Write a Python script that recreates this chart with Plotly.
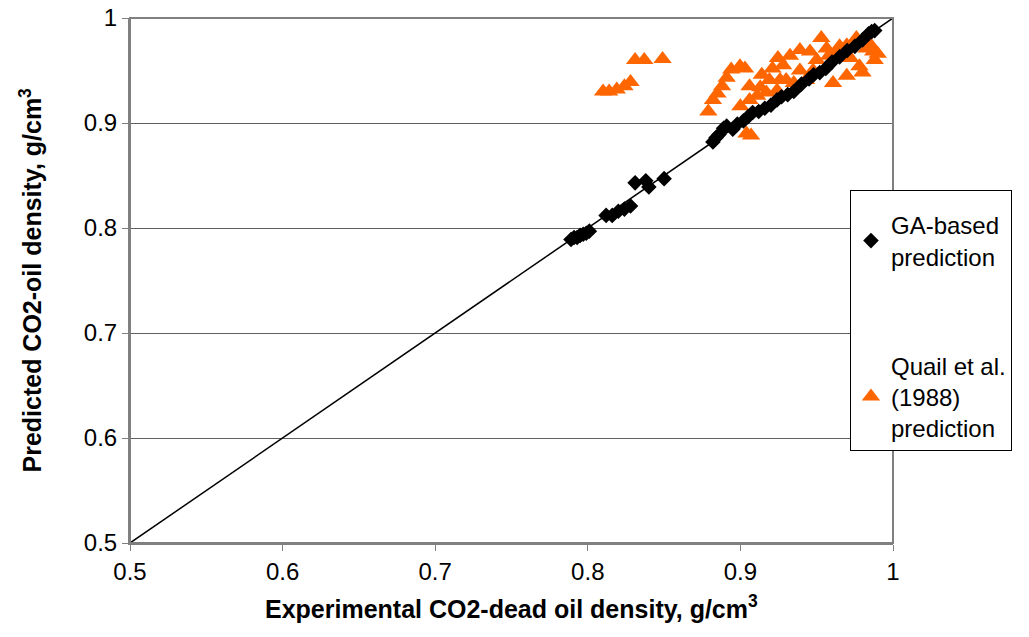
import plotly.graph_objects as go

# GA-based prediction (experimental, predicted)
ga_x = [0.789, 0.791, 0.793, 0.795, 0.797, 0.799, 0.801, 0.812, 0.816, 0.820, 0.824, 0.828,
        0.831, 0.838, 0.840, 0.850, 0.882, 0.884, 0.886, 0.889, 0.891, 0.895, 0.898, 0.902,
        0.905, 0.908, 0.912, 0.916, 0.920, 0.924, 0.927, 0.931, 0.935, 0.940, 0.945, 0.948,
        0.952, 0.956, 0.960, 0.965, 0.970, 0.975, 0.980, 0.984, 0.986, 0.988]
ga_y = [0.789, 0.791, 0.791, 0.793, 0.794, 0.795, 0.797, 0.812, 0.812, 0.816, 0.818, 0.821,
        0.843, 0.845, 0.839, 0.847, 0.882, 0.886, 0.889, 0.895, 0.897, 0.894, 0.899, 0.902,
        0.906, 0.910, 0.911, 0.914, 0.917, 0.922, 0.925, 0.927, 0.930, 0.937, 0.942, 0.946,
        0.948, 0.952, 0.958, 0.963, 0.969, 0.973, 0.979, 0.985, 0.987, 0.988]

# Quail et al. (1988) prediction
quail_x = [0.810, 0.814, 0.819, 0.824, 0.828, 0.831, 0.837, 0.849,
           0.879, 0.882, 0.885, 0.888, 0.891, 0.894, 0.8997, 0.903,
           0.900, 0.906, 0.911, 0.917, 0.924, 0.904, 0.907,
           0.906, 0.914, 0.919, 0.926, 0.930, 0.935, 0.943,
           0.9246, 0.9325, 0.939, 0.9456, 0.953, 0.9565, 0.950,
           0.965, 0.9697, 0.976, 0.9827, 0.987, 0.988, 0.978, 0.980,
           0.9697, 0.9607, 0.939, 0.9476, 0.958, 0.962, 0.972,
           0.921, 0.928, 0.913, 0.985, 0.990]
quail_y = [0.930, 0.930, 0.932, 0.935, 0.939, 0.960, 0.960, 0.961,
           0.911, 0.922, 0.928, 0.935, 0.943, 0.951, 0.954, 0.952,
           0.916, 0.922, 0.926, 0.929, 0.931, 0.890, 0.888,
           0.935, 0.946, 0.941, 0.941, 0.941, 0.938, 0.941,
           0.962, 0.964, 0.9695, 0.968, 0.981, 0.971, 0.960,
           0.973, 0.974, 0.981, 0.971, 0.968, 0.960, 0.954, 0.948,
           0.945, 0.938, 0.950, 0.950, 0.964, 0.967, 0.962,
           0.952, 0.955, 0.934, 0.975, 0.966]

line_x = [0.5, 1.0]
line_y = [0.5, 1.0]

tick_vals = [0.5, 0.6, 0.7, 0.8, 0.9, 1.0]
tick_text = ["0.5", "0.6", "0.7", "0.8", "0.9", "1"]

x_title = "<b>Experimental CO2-dead oil density, g/cm<sup>3</sup></b>"
y_title = "<b>Predicted CO2-oil density, g/cm<sup>3</sup></b>"

font_family = "Liberation Sans, Arial, sans-serif"

fig = go.Figure()
fig.add_trace(go.Scatter(
    x=quail_x, y=quail_y, mode="markers", name="Quail et al.<br>(1988)<br>prediction",
    marker=dict(symbol="triangle-up", size=16, color="#FF6600", line=dict(width=0)),
    legendrank=2, legendgroup="q"))
fig.add_trace(go.Scatter(
    x=ga_x, y=ga_y, mode="markers", name="GA-based<br>prediction",
    marker=dict(symbol="diamond", size=12, color="black", line=dict(width=0)),
    legendrank=1, legendgroup="g"))
fig.add_trace(go.Scatter(
    x=line_x, y=line_y, mode="lines", line=dict(color="black", width=1.5),
    showlegend=False, hoverinfo="skip"))

axis_common = dict(
    range=[0.5, 1.0], tickvals=tick_vals, ticktext=tick_text,
    showline=True, linecolor="#808080", linewidth=2,
    ticks="outside", ticklen=6, tickcolor="#808080", tickwidth=1,
    tickfont=dict(size=24, color="black", family=font_family),
    zeroline=False, automargin=False,
)

fig.update_layout(
    width=1029, height=637,
    margin=dict(l=130, r=136, t=18, b=94),
    paper_bgcolor="white", plot_bgcolor="white",
    font=dict(family=font_family, color="black"),
    xaxis=dict(**axis_common, showgrid=False),
    yaxis=dict(**axis_common, showgrid=True, gridcolor="#606060", gridwidth=1),
    legend=dict(x=0.9436, xanchor="left", y=0.672, yanchor="top",
                bordercolor="black", borderwidth=1, bgcolor="white",
                font=dict(size=24, color="black"),
                title=dict(text=" ", font=dict(size=9)),
                tracegroupgap=75, itemsizing="trace"),
    shapes=[dict(type="rect", xref="paper", yref="paper", x0=0, y0=0, x1=1, y1=1,
                 line=dict(color="#808080", width=2), layer="above")],
    annotations=[
        dict(text=x_title, xref="paper", yref="paper", x=0.5, y=0, yshift=-64,
             xanchor="center", yanchor="middle", showarrow=False,
             font=dict(size=25, color="black")),
        dict(text=y_title, xref="paper", yref="paper", x=0, y=0.5, xshift=-100,
             xanchor="center", yanchor="middle", textangle=-90, showarrow=False,
             font=dict(size=25, color="black")),
    ],
)

fig.write_html("out.html")
